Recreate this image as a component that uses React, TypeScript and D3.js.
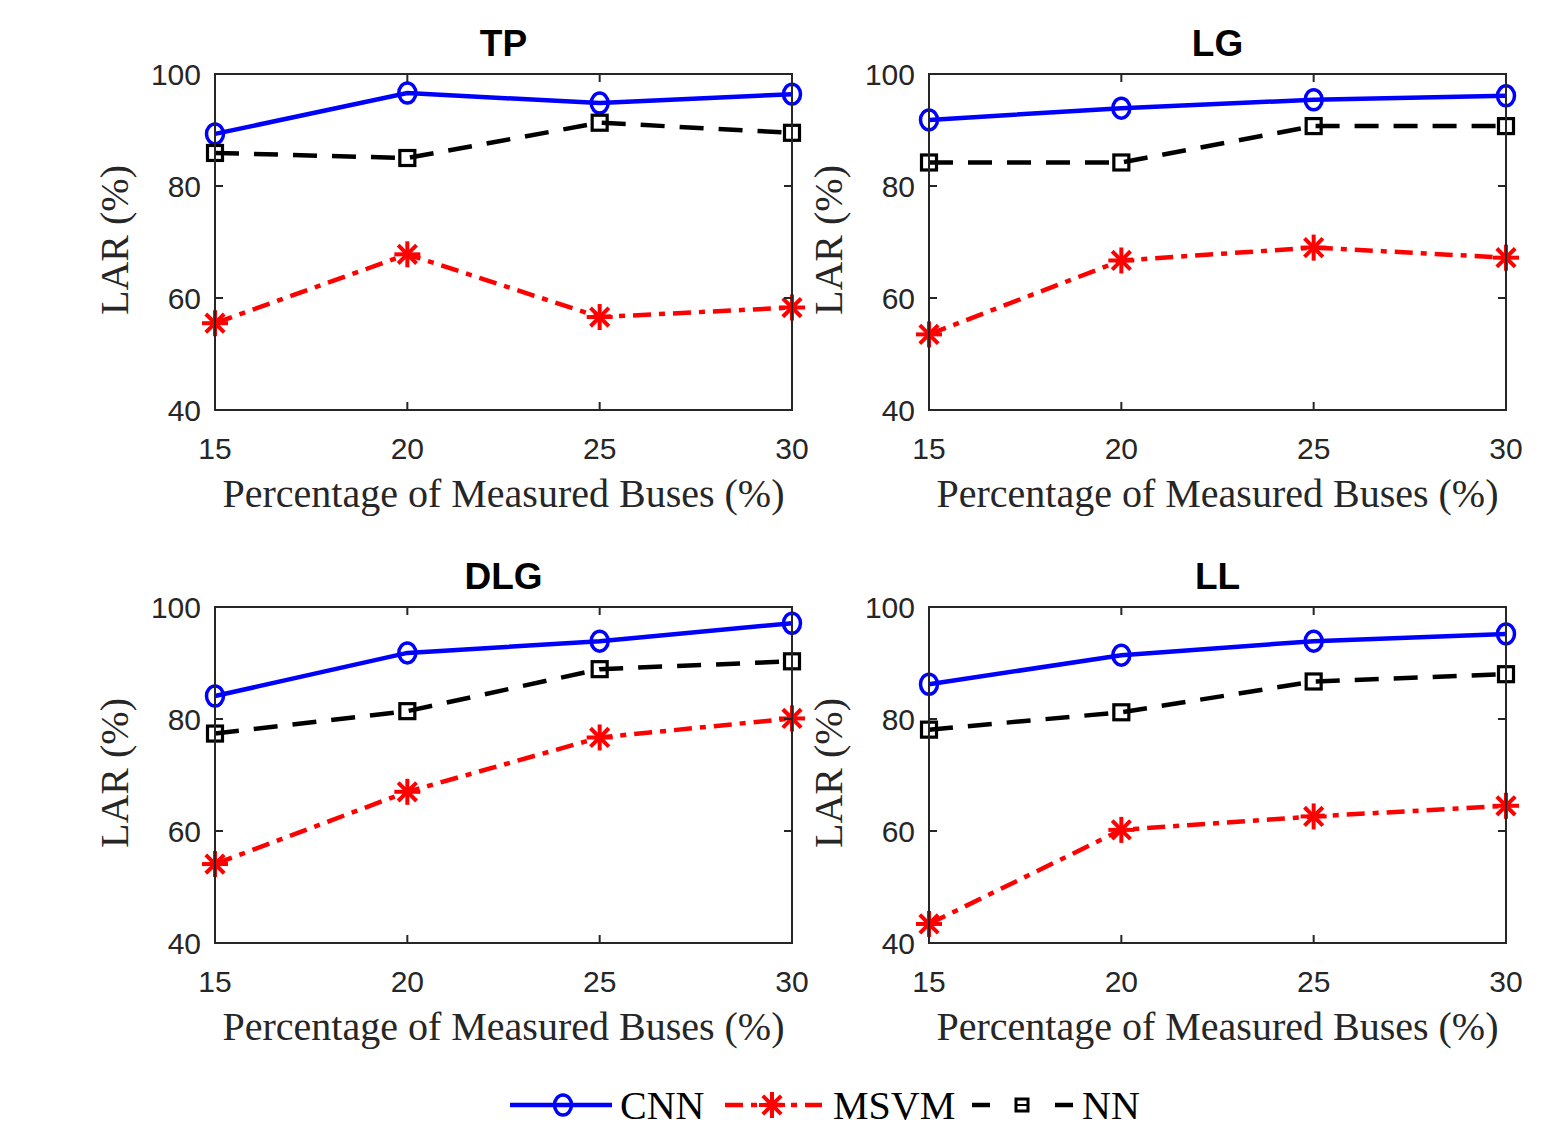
import React from "react";
import * as d3 from "d3";

const xValues = [15, 20, 25, 30];
const yTicks = [40, 60, 80, 100];
const panelTitles = ["TP", "LG", "DLG", "LL"];

const cnnTP = [89.3, 96.6, 94.8, 96.4];
const nnTP = [85.9, 85.0, 91.3, 89.5];
const msvmTP = [55.5, 67.8, 56.6, 58.3];

const cnnLG = [91.8, 93.9, 95.4, 96.1];
const nnLG = [84.2, 84.2, 90.7, 90.7];
const msvmLG = [53.5, 66.7, 69.0, 67.2];

const cnnDLG = [84.1, 91.8, 93.9, 97.1];
const nnDLG = [77.4, 81.4, 88.9, 90.3];
const msvmDLG = [54.1, 67.0, 76.7, 80.1];

const cnnLL = [86.2, 91.4, 93.9, 95.2];
const nnLL = [78.1, 81.2, 86.7, 88.0];
const msvmLL = [43.4, 60.2, 62.6, 64.5];

const panelData = [
  { cnn: cnnTP, nn: nnTP, msvm: msvmTP },
  { cnn: cnnLG, nn: nnLG, msvm: msvmLG },
  { cnn: cnnDLG, nn: nnDLG, msvm: msvmDLG },
  { cnn: cnnLL, nn: nnLL, msvm: msvmLL },
];

const AXIS = "#262626";
const SANS = "'Liberation Sans', Arial, sans-serif";
const SERIF = "'Liberation Serif', 'Times New Roman', serif";

// marker helpers
function Circle({ x, y }: { x: number; y: number }) {
  return <ellipse cx={x} cy={y} rx={8.5} ry={10} fill="none" stroke="#0000ff" strokeWidth={3.5} />;
}
function Star({ x, y }: { x: number; y: number }) {
  const r = 13;
  const lines = [0, 45, 90, 135].map((a) => {
    const t = (a * Math.PI) / 180;
    return (
      <line key={a} x1={x - r * Math.cos(t)} y1={y - r * Math.sin(t)} x2={x + r * Math.cos(t)} y2={y + r * Math.sin(t)}
        stroke="#ff0000" strokeWidth={4} />
    );
  });
  return <g>{lines}</g>;
}
function Square({ x, y }: { x: number; y: number }) {
  return <rect x={x - 7.5} y={y - 7.5} width={15} height={15} fill="none" stroke="#000" strokeWidth={3.2} />;
}

function Panel({ idx, left, top }: { idx: number; left: number; top: number }) {
  const w = 577;
  const h = 336;
  const x = d3.scaleLinear().domain([15, 30]).range([left, left + w]);
  const y = d3.scaleLinear().domain([40, 100]).range([top + h, top]);
  const line = d3.line<number>().x((_, i) => x(xValues[i])).y((d) => y(d));
  const d = panelData[idx];
  const tl = 8;

  return (
    <g>
      <rect x={left} y={top} width={w} height={h} fill="#fff" />
      <path d={line(d.cnn) || ""} fill="none" stroke="#0000ff" strokeWidth={4.5} />
      <path d={line(d.nn) || ""} fill="none" stroke="#000" strokeWidth={4.5} strokeDasharray="24 15" />
      <path d={line(d.msvm) || ""} fill="none" stroke="#ff0000" strokeWidth={4.5} strokeDasharray="18 8 6 8" />
      {d.cnn.map((v, i) => <Circle key={"c" + i} x={x(xValues[i])} y={y(v)} />)}
      {d.nn.map((v, i) => <Square key={"n" + i} x={x(xValues[i])} y={y(v)} />)}
      {d.msvm.map((v, i) => <Star key={"m" + i} x={x(xValues[i])} y={y(v)} />)}
      <rect x={left} y={top} width={w} height={h} fill="none" stroke={AXIS} strokeWidth={2} />
      {xValues.map((t) => (
        <g key={"xt" + t}>
          <line x1={x(t)} x2={x(t)} y1={top + h} y2={top + h - tl} stroke={AXIS} strokeWidth={2} />
          <line x1={x(t)} x2={x(t)} y1={top} y2={top + tl} stroke={AXIS} strokeWidth={2} />
          <text x={x(t)} y={top + h + 49} textAnchor="middle" fontFamily={SANS} fontSize={30} fill={AXIS}>
            {t}
          </text>
        </g>
      ))}
      {yTicks.map((t) => (
        <g key={"yt" + t}>
          <line x1={left} x2={left + tl} y1={y(t)} y2={y(t)} stroke={AXIS} strokeWidth={2} />
          <line x1={left + w} x2={left + w - tl} y1={y(t)} y2={y(t)} stroke={AXIS} strokeWidth={2} />
          <text x={left - 14} y={y(t) + 11} textAnchor="end" fontFamily={SANS} fontSize={30} fill={AXIS}>
            {t}
          </text>
        </g>
      ))}
      <text x={left + w / 2} y={top - 18} textAnchor="middle" fontFamily={SANS} fontWeight="bold" fontSize={37} fill="#000">
        {panelTitles[idx]}
      </text>
      <text x={left + w / 2} y={top + h + 97} textAnchor="middle" fontFamily={SERIF} fontSize={40} fill={AXIS}>
        Percentage of Measured Buses (%)
      </text>
      <text transform={`translate(${left - 87},${top + h / 2 - 2}) rotate(-90)`} textAnchor="middle" fontFamily={SERIF} fontSize={40} fill={AXIS}>
        LAR (%)
      </text>
    </g>
  );
}

export default function App() {
  const W = 1560;
  const H = 1129;
  return (
    <svg width={W} height={H} style={{ position: "absolute", left: 0, top: 0, background: "#fff" }}>
      <rect width={W} height={H} fill="#fff" />
      <Panel idx={0} left={215} top={74} />
      <Panel idx={1} left={929} top={74} />
      <Panel idx={2} left={215} top={607} />
      <Panel idx={3} left={929} top={607} />
      {/* legend */}
      <g>
        <line x1={510} x2={612} y1={1105} y2={1105} stroke="#0000ff" strokeWidth={4.5} />
        <Circle x={563} y={1105} />
        <text x={620} y={1119} fontFamily={SERIF} fontSize={40} fill="#000">CNN</text>
        <line x1={725} x2={822} y1={1105} y2={1105} stroke="#ff0000" strokeWidth={4.5} strokeDasharray="18 8 6 8" />
        <Star x={772} y={1105} />
        <text x={833} y={1119} fontFamily={SERIF} fontSize={40} fill="#000">MSVM</text>
        <line x1={972} x2={990} y1={1105} y2={1105} stroke="#000" strokeWidth={4.5} />
        <rect x={1016} y={1099} width={12} height={12} fill="none" stroke="#000" strokeWidth={3} />
        <line x1={1016} x2={1028} y1={1105} y2={1105} stroke="#000" strokeWidth={2} />
        <line x1={1055} x2={1073} y1={1105} y2={1105} stroke="#000" strokeWidth={4.5} />
        <text x={1082} y={1119} fontFamily={SERIF} fontSize={40} fill="#000">NN</text>
      </g>
    </svg>
  );
}
